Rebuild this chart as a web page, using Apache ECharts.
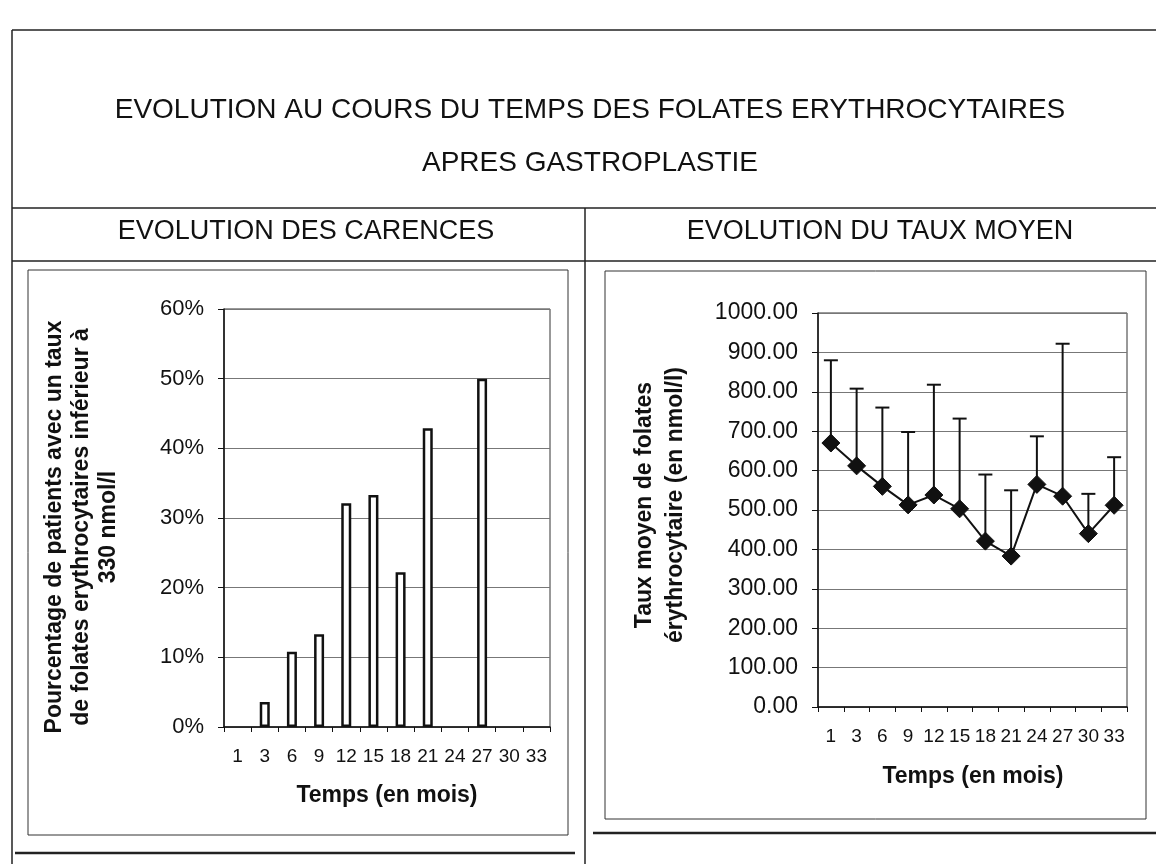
<!DOCTYPE html>
<html>
<head>
<meta charset="utf-8">
<script src="https://cdn.jsdelivr.net/npm/echarts@6/dist/echarts.min.js"></script>
<style>
  html, body { margin: 0; padding: 0; background: #fff; }
  #chart { width: 1156px; height: 864px; }
</style>
</head>
<body>
<div id="chart"></div>
<script>
// Months after gastroplasty (categories shared by both panels)
const months = ['1', '3', '6', '9', '12', '15', '18', '21', '24', '27', '30', '33'];

// Left panel: % of patients with erythrocyte folate < 330 nmol/l
const deficiencyPct = [0, 3.6, 10.8, 13.3, 32.1, 33.3, 22.2, 42.9, 0, 50, 0, 0];

// Right panel: mean erythrocyte folate (nmol/l) and the top of each error bar
const meanFolate = [670, 612, 560, 513, 538, 503, 421, 383, 565, 535, 440, 512];
const upperFolate = [880, 808, 760, 698, 818, 732, 590, 550, 687, 922, 541, 634];

const FONT = '"Liberation Sans", Arial, Helvetica, sans-serif';
const INK = '#111';

const chart = echarts.init(document.getElementById('chart'), null, { renderer: 'canvas' });

// zero-height bars get no outline, so empty months stay blank
const barData = deficiencyPct.map(v => v === 0
  ? { value: v, itemStyle: { borderWidth: 0 } }
  : v);

const errorData = meanFolate.map((m, i) => [i, m, upperFolate[i]]);

function renderErrorBar(params, api) {
  const i = api.value(0);
  const base = api.coord([i, api.value(1)]);
  const top = api.coord([i, api.value(2)]);
  const half = 7;
  return {
    type: 'group',
    children: [
      { type: 'line', shape: { x1: base[0], y1: base[1], x2: top[0], y2: top[1] },
        style: { stroke: INK, lineWidth: 2 } },
      { type: 'line', shape: { x1: top[0] - half, y1: top[1], x2: top[0] + half, y2: top[1] },
        style: { stroke: INK, lineWidth: 2 } }
    ]
  };
}

function frameLine(x1, y1, x2, y2, w) {
  return { type: 'line', silent: true, z: 1,
    shape: { x1, y1, x2, y2 }, style: { stroke: '#222', lineWidth: w || 1.5 } };
}

function headText(text, x, y, size) {
  return { type: 'text', x, y, z: 2,
    style: { text, font: 'normal ' + size + 'px ' + FONT, fill: INK, align: 'center', verticalAlign: 'middle' } };
}

function axisTitle(text, x, y, rotate, lh) {
  return { type: 'text', x, y, rotation: rotate ? Math.PI / 2 : 0, z: 5,
    style: { text, font: 'bold 23px ' + FONT, fill: INK, align: 'center', verticalAlign: 'middle',
      lineHeight: lh || 26 } };
}

const axisLabelStyle = { color: INK, fontFamily: FONT };
const gridLine = { show: true, lineStyle: { color: '#777', width: 1 } };

const option = {
  backgroundColor: '#fff',
  animation: false,
  grid: [
    { left: 224, right: 606, top: 309, bottom: 137, show: true, borderColor: '#333', borderWidth: 1, backgroundColor: 'transparent' },
    { left: 818, right: 29, top: 313, bottom: 157, show: true, borderColor: '#333', borderWidth: 1, backgroundColor: 'transparent' }
  ],
  xAxis: [
    { type: 'category', gridIndex: 0, data: months,
      axisLine: { lineStyle: { color: INK, width: 1.5 } },
      axisTick: { show: true, length: 5, lineStyle: { color: INK } },
      axisLabel: Object.assign({ fontSize: 19, margin: 20, interval: 0 }, axisLabelStyle),
      splitLine: { show: false } },
    { type: 'category', gridIndex: 1, data: months,
      axisLine: { lineStyle: { color: INK, width: 1.5 } },
      axisTick: { show: true, length: 5, lineStyle: { color: INK } },
      axisLabel: Object.assign({ fontSize: 19, margin: 20, interval: 0 }, axisLabelStyle),
      splitLine: { show: false } }
  ],
  yAxis: [
    { type: 'value', gridIndex: 0, min: 0, max: 60, interval: 10,
      axisLine: { show: true, lineStyle: { color: INK, width: 1.5 } },
      axisTick: { show: true, length: 6, lineStyle: { color: INK } },
      axisLabel: Object.assign({ fontSize: 22, margin: 20, formatter: '{value}%' }, axisLabelStyle),
      splitLine: gridLine },
    { type: 'value', gridIndex: 1, min: 0, max: 1000, interval: 100,
      axisLine: { show: true, lineStyle: { color: INK, width: 1.5 } },
      axisTick: { show: true, length: 6, lineStyle: { color: INK } },
      axisLabel: Object.assign({ fontSize: 23, margin: 20, formatter: v => v.toFixed(2) }, axisLabelStyle),
      splitLine: gridLine }
  ],
  series: [
    { type: 'bar', xAxisIndex: 0, yAxisIndex: 0, data: barData, barWidth: 10,
      itemStyle: { color: '#fff', borderColor: INK, borderWidth: 2.5 } },
    { type: 'custom', xAxisIndex: 1, yAxisIndex: 1, data: errorData, renderItem: renderErrorBar,
      encode: { x: 0, y: [1, 2] }, z: 3 },
    { type: 'line', xAxisIndex: 1, yAxisIndex: 1, data: meanFolate, z: 4,
      symbol: 'diamond', symbolSize: 18,
      lineStyle: { color: INK, width: 2 },
      itemStyle: { color: INK, borderColor: INK } }
  ],
  graphic: [
    // page frame
    frameLine(12, 30, 1156, 30),
    frameLine(12, 30, 12, 864),
    frameLine(12, 208, 1156, 208),
    frameLine(12, 261, 1156, 261),
    frameLine(585, 208, 585, 864),
    { type: 'rect', silent: true, z: 1, shape: { x: 28, y: 270, width: 540, height: 565 },
      style: { fill: 'none', stroke: '#333', lineWidth: 1 } },
    { type: 'rect', silent: true, z: 1, shape: { x: 605, y: 271, width: 541, height: 548 },
      style: { fill: 'none', stroke: '#333', lineWidth: 1 } },
    frameLine(15, 853, 575, 853, 2.5),
    frameLine(593, 833, 1156, 833, 2.5),
    // headings
    headText('EVOLUTION AU COURS DU TEMPS DES FOLATES ERYTHROCYTAIRES', 590, 110, 28),
    headText('APRES GASTROPLASTIE', 590, 163, 28),
    headText('EVOLUTION DES CARENCES', 306, 232, 27),
    headText('EVOLUTION DU TAUX MOYEN', 880, 232, 27),
    // axis titles
    axisTitle('Pourcentage de patients avec un taux\nde folates erythrocytaires inférieur à\n330 nmol/l', 82, 527, true, 27),
    axisTitle('Taux moyen de folates\nérythrocytaire (en nmol/l)', 660, 505, true, 31),
    axisTitle('Temps (en mois)', 387, 796, false),
    axisTitle('Temps (en mois)', 973, 777, false)
  ]
};

chart.setOption(option);
</script>
</body>
</html>
